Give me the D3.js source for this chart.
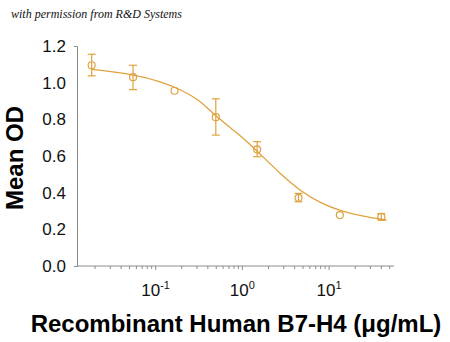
<!DOCTYPE html>
<html>
<head>
<meta charset="utf-8">
<script src="https://cdn.jsdelivr.net/npm/d3@7"></script>
<style>
  html, body { margin: 0; padding: 0; background: #fff; }
  svg { display: block; }
</style>
</head>
<body>
<svg id="chart" width="450" height="342"></svg>
<script>
// ---- data ----
const concentrations = [0.0183, 0.0549, 0.165, 0.494, 1.48, 4.44, 13.3, 40];
const meanOD        = [1.095, 1.03, 0.956, 0.812, 0.636, 0.372, 0.278, 0.268];
const errUpper      = [1.155, 1.095, 0.956, 0.912, 0.678, 0.396, 0.278, 0.286];
const errLower      = [1.037, 0.962, 0.956, 0.714, 0.596, 0.350, 0.278, 0.250];
const hasError      = [true, true, false, true, true, true, false, true];
// fitted curve
const curveConc = [0.0183, 0.058, 0.116, 0.197, 0.336, 0.463, 0.90, 1.53, 2.82, 4.8, 8.2, 13.6, 23.7, 46];
const curveOD   = [1.073, 1.045, 1.005, 0.962, 0.898, 0.826, 0.722, 0.620, 0.497, 0.405, 0.340, 0.300, 0.272, 0.250];
const yTicks = [0.0, 0.2, 0.4, 0.6, 0.8, 1.0, 1.2];
const xMajorTicks = [0.1, 1, 10];
const xMajorExp = ["-1", "0", "1"];
const xTitle = "Recombinant Human B7-H4 (\u03bcg/mL)";
const yTitle = "Mean OD";
const credit = "with permission from R&D Systems";

const color = "#DFA23E";
const axisColor = "#8c8c8c";

const svg = d3.select("#chart");
const x = d3.scaleLog().domain([0.0124, 56]).range([77, 394]);
const y = d3.scaleLinear().domain([0, 1.2]).range([266, 46]);

// credit line
svg.append("text")
  .attr("x", 11).attr("y", 18)
  .attr("font-family", "'Liberation Serif', 'DejaVu Serif', serif")
  .attr("font-style", "italic")
  .attr("font-size", 12)
  .attr("fill", "#111")
  .text(credit);

// Y axis
const yAxis = svg.append("g")
  .attr("transform", "translate(77,0)")
  .call(d3.axisLeft(y).tickValues(yTicks).tickFormat(d3.format(".1f")).tickSizeInner(0).tickSizeOuter(3).tickPadding(11));
yAxis.select(".domain").attr("stroke", axisColor);
yAxis.selectAll("text")
  .attr("font-family", "'Liberation Sans', Arial, sans-serif")
  .attr("font-size", 17).attr("fill", "#111");

// X axis: minor ticks
const minorTicks = [];
for (let e = -2; e <= 1; e++) {
  for (let m = 2; m <= 9; m++) {
    const v = m * Math.pow(10, e);
    if (v >= x.domain()[0] && v <= x.domain()[1]) minorTicks.push(v);
  }
}
const xAxisG = svg.append("g").attr("transform", "translate(0,266)");
xAxisG.append("line")
  .attr("x1", x.range()[0]).attr("x2", x.range()[1])
  .attr("y1", 0).attr("y2", 0)
  .attr("stroke", axisColor).attr("stroke-width", 1);
xAxisG.selectAll("line.minor").data(minorTicks).enter().append("line")
  .attr("class", "minor")
  .attr("x1", d => x(d)).attr("x2", d => x(d))
  .attr("y1", 0).attr("y2", 3)
  .attr("stroke", axisColor).attr("stroke-width", 1);
xAxisG.selectAll("line.major").data(xMajorTicks).enter().append("line")
  .attr("class", "major")
  .attr("x1", d => x(d)).attr("x2", d => x(d))
  .attr("y1", 0).attr("y2", 4)
  .attr("stroke", axisColor).attr("stroke-width", 1);

const lbl = svg.append("g").selectAll("text").data(xMajorTicks).enter().append("text")
  .attr("x", d => x(d))
  .attr("y", 296)
  .attr("text-anchor", "middle")
  .attr("font-family", "'Liberation Sans', Arial, sans-serif")
  .attr("font-size", 17).attr("fill", "#111");
lbl.append("tspan").text("10");
lbl.append("tspan").attr("dy", -7).attr("font-size", 11).text((d, i) => xMajorExp[i]);

// axis titles
svg.append("text")
  .attr("transform", "translate(23,158) rotate(-90)")
  .attr("text-anchor", "middle")
  .attr("font-family", "'Liberation Sans', Arial, sans-serif")
  .attr("font-weight", "bold")
  .attr("font-size", 24).attr("fill", "#000")
  .text(yTitle);

svg.append("text")
  .attr("x", 236).attr("y", 332)
  .attr("text-anchor", "middle")
  .attr("font-family", "'Liberation Sans', Arial, sans-serif")
  .attr("font-weight", "bold")
  .attr("font-size", 24).attr("fill", "#000")
  .text(xTitle);

// fitted curve
const curveData = curveConc.map((c, i) => [c, curveOD[i]]);
svg.append("path")
  .datum(curveData)
  .attr("fill", "none")
  .attr("stroke", color)
  .attr("stroke-width", 1.3)
  .attr("d", d3.line().x(d => x(d[0])).y(d => y(d[1])).curve(d3.curveBasis));

// error bars & points
const pts = concentrations.map((c, i) => ({ c, v: meanOD[i], hi: errUpper[i], lo: errLower[i], e: hasError[i] }));
const eb = svg.append("g").attr("stroke", color).attr("stroke-width", 1.2);
pts.filter(d => d.e).forEach(d => {
  const cx = x(d.c);
  eb.append("line").attr("x1", cx).attr("x2", cx).attr("y1", y(d.hi)).attr("y2", y(d.lo));
  eb.append("line").attr("x1", cx - 4).attr("x2", cx + 4).attr("y1", y(d.hi)).attr("y2", y(d.hi));
  eb.append("line").attr("x1", cx - 4).attr("x2", cx + 4).attr("y1", y(d.lo)).attr("y2", y(d.lo));
});
svg.append("g").selectAll("circle").data(pts).enter().append("circle")
  .attr("cx", d => x(d.c)).attr("cy", d => y(d.v)).attr("r", 3.5)
  .attr("fill", "none").attr("stroke", color).attr("stroke-width", 1.2);
</script>
</body>
</html>
